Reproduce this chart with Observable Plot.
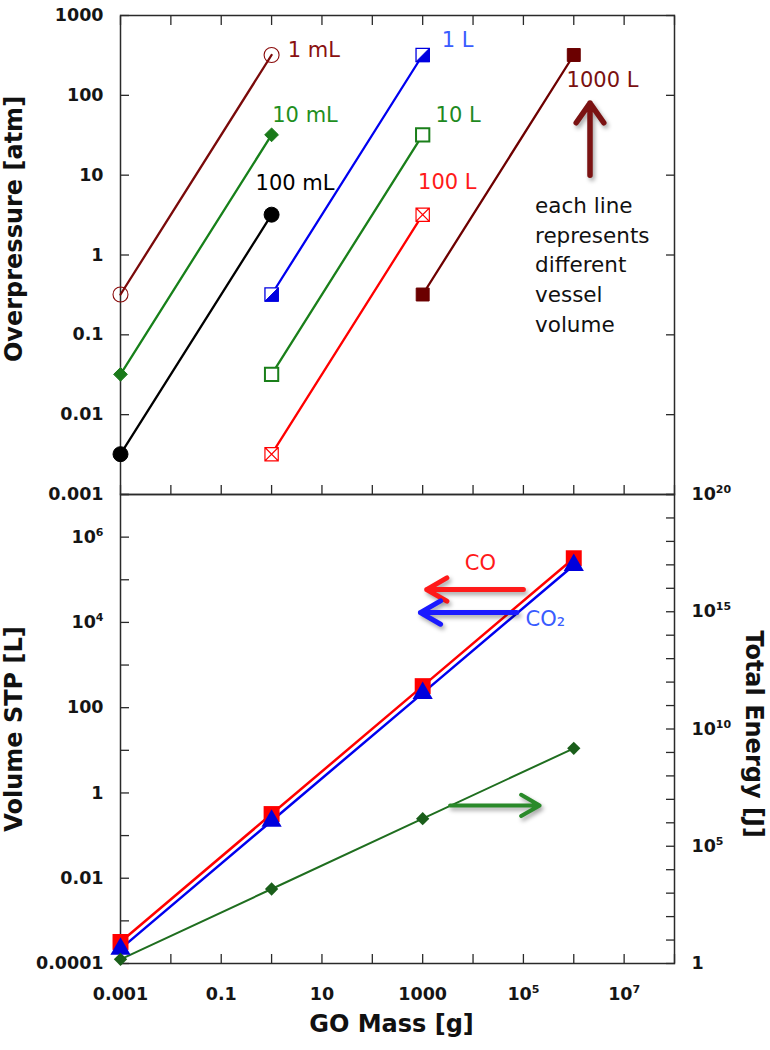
<!DOCTYPE html>
<html><head><meta charset="utf-8">
<script src="https://cdn.jsdelivr.net/npm/d3@7"></script>
<script src="https://cdn.jsdelivr.net/npm/@observablehq/plot@0.6"></script>
<style>
body{margin:0;background:#fff;}
#wrap{position:relative;width:770px;height:1050px;overflow:hidden;}
#top,#bot{position:absolute;left:0;}
#top{top:0;} #bot{top:494px;}
</style></head><body><div id="wrap"><div id="bot"></div><div id="top"></div></div>
<script>
// ---------------- top panel data ----------------
const vesselLabels = ["1 mL","10 mL","100 mL","1 L","10 L","100 L","1000 L"];
const massLow  = [0.001, 0.001, 0.001, 1, 1, 1, 1000];
const massHigh = [1, 1, 1, 1000, 1000, 1000, 1e6];
const pressLow  = [0.32, 0.032, 0.0032, 0.32, 0.032, 0.0032, 0.32];
const pressHigh = [320, 32, 3.2, 320, 32, 3.2, 320];
const labelMass  = [2.1, 1.03, 0.48, 2400, 1800, 810, 7.2e5];
const labelPress = [363, 57, 7.9, 490, 56, 8.1, 153];
const noteText = ["each line\nrepresents\ndifferent\nvessel\nvolume"];
const noteMass = [1.7e5];
const notePress = [0.8];
const topArrowMass = [2.1e6];
const topArrowFrom = [10];
const topArrowTo = [80];
const topYTicks = [0.001, 0.01, 0.1, 1, 10, 100, 1000];
const topYTickLabels = ["0.001", "0.01", "0.1", "1", "10", "100", "1000"];
const massDecades = [1e-3, 1e-2, 1e-1, 1, 10, 100, 1e3, 1e4, 1e5, 1e6, 1e7, 1e8];

// ---------------- bottom panel data ----------------
const goMass = [0.001, 1, 1000, 1e6];
const volumeCO = [3.2e-4, 0.32, 320, 3.2e5];
const volumeCO2 = [2.2e-4, 0.22, 220, 2.2e5];
const totalEnergy = [1.5, 1.5e3, 1.5e6, 1.5e9];
const massTickLabels = ["0.001", "", "0.1", "", "10", "", "1000", "", "10^5", "", "10^7", ""];
const volTicks = [1e-4, 1e-3, 1e-2, 1e-1, 1, 10, 100, 1e3, 1e4, 1e5, 1e6, 1e7];
const volTickLabels = ["0.0001", "", "0.01", "", "1", "", "100", "", "10^4", "", "10^6", ""];
const energyExps = [0,1,2,3,4,5,6,7,8,9,10,11,12,13,14,15,16,17,18,19,20];
const energyTickLabels = ["1","","","","","10^5","","","","","10^10","","","","","10^15","","","","","10^20"];
const gasLabels = ["CO", "CO₂"];
const gasLabelMass = [1.4e4, 1.1e5];
const gasLabelVol = [2.5e5, 1.2e4];
const arrowCO = {from: [1e5], to: [1.2e3], vol: [5.9e4]};
const arrowCO2 = {from: [7.4e4], to: [900], vol: [1.7e4]};
const arrowEnergy = {from: [3.5e3], to: [2.1e5], vol: [0.51]};

// ---------------- styles ----------------
const lineStroke = ["#7a0a0a", "#17801a", "#000000", "#0000f0", "#1a7f1a", "#ff0000", "#6e0000"];
const labelFill  = ["#8a1010", "#1f8f1f", "#000000", "#3a5cff", "#1f8a1f", "#ff1a1a", "#7a1010"];
const volDomain = [1e-4, 1e7];
const energyDomain = [1, 1e20];

// map an energy (right axis) onto the left-axis volume scale
function energyToVol(e) {
  const t = (Math.log10(e) - Math.log10(energyDomain[0])) / (Math.log10(energyDomain[1]) - Math.log10(energyDomain[0]));
  return 10 ** (Math.log10(volDomain[0]) + t * (Math.log10(volDomain[1]) - Math.log10(volDomain[0])));
}

const halfSquare = {draw(ctx, size) { const s = Math.sqrt(size) / 2; ctx.moveTo(s, -s); ctx.lineTo(s, s); ctx.lineTo(-s, s); ctx.closePath(); }};
const crossSquare = {draw(ctx, size) { const s = Math.sqrt(size) / 2;
  ctx.moveTo(-s, -s); ctx.lineTo(s, -s); ctx.lineTo(s, s); ctx.lineTo(-s, s); ctx.closePath();
  ctx.moveTo(-s, -s); ctx.lineTo(s, s); ctx.moveTo(s, -s); ctx.lineTo(-s, s); }};

const markerSpecs = [
  [{symbol: "circle", r: 7.5, fill: "none", stroke: "#8a0a0a", strokeWidth: 1.1}],
  [{symbol: "diamond2", r: 6.2, fill: "#1a7a1a", stroke: "#1a7a1a", strokeWidth: 1}],
  [{symbol: "circle", r: 7.5, fill: "#000", stroke: "#000", strokeWidth: 1}],
  [{symbol: "square", r: 7.5, fill: "#fff", stroke: "#0000e0", strokeWidth: 1.3}, {symbol: halfSquare, r: 7.5, fill: "#0000e0", stroke: "#0000e0", strokeWidth: 1}],
  [{symbol: "square", r: 7.5, fill: "#fff", stroke: "#1a7f1a", strokeWidth: 2}],
  [{symbol: crossSquare, r: 7.5, fill: "#fff", stroke: "#ff0000", strokeWidth: 1.2}],
  [{symbol: "square", r: 7.3, fill: "#6b0000", stroke: "#6b0000", strokeWidth: 1}]
];

const topRows = vesselLabels.flatMap((v, i) => [
  {v, i, m: massLow[i], p: pressLow[i]},
  {v, i, m: massHigh[i], p: pressHigh[i]}
]);
const topLabelMap = new Map(topYTicks.map((d, i) => [d, topYTickLabels[i]]));
const massLabelMap = new Map(massDecades.map((d, i) => [d, massTickLabels[i]]));
const volLabelMap = new Map(volTicks.map((d, i) => [d, volTickLabels[i]]));
const energyTicks = energyExps.map(k => energyToVol(10 ** k));
const energyLabelMap = new Map(energyTicks.map((d, i) => [d, energyTickLabels[i]]));

const axisStyle = {fontFamily: "DejaVu Sans", fontSize: "17.5px", fontWeight: "bold", color: "#151515", background: "transparent", overflow: "visible"};
const frameColor = "#2a2a2a";
const shadow = "drop-shadow(2px 3px 2px rgba(0,0,0,0.35))";
const noteFont = {fontSize: 21.5, fontWeight: "normal", fontFamily: "DejaVu Sans"};
const titleFont = {fontSize: 24, fontWeight: "bold", fontFamily: "DejaVu Sans", fill: "#111", textAnchor: "middle"};

const topMarks = [
  Plot.frame({stroke: frameColor, strokeWidth: 1.5}),
  Plot.axisY({ticks: topYTicks, anchor: "left", tickSize: -9, tickPadding: 26, tickFormat: d => topLabelMap.get(d), label: null, stroke: frameColor, strokeWidth: 1.3}),
  Plot.axisY({ticks: topYTicks, anchor: "right", tickSize: -9, tickFormat: () => "", label: null, stroke: frameColor, strokeWidth: 1.3}),
  Plot.axisX({ticks: massDecades, anchor: "bottom", tickSize: -9, tickFormat: () => "", label: null, stroke: frameColor, strokeWidth: 1.3}),
  Plot.axisX({ticks: massDecades, anchor: "top", tickSize: -9, tickFormat: () => "", label: null, stroke: frameColor, strokeWidth: 1.3}),
  Plot.line(topRows, {x: "m", y: "p", z: "v", stroke: d => lineStroke[d.i], strokeWidth: 2.3}),
];
markerSpecs.forEach((specs, i) => {
  specs.forEach(s => topMarks.push(Plot.dot(topRows.filter(d => d.i === i), {x: "m", y: "p", ...s})));
});
topMarks.push(
  Plot.text(vesselLabels, {x: (d, i) => labelMass[i], y: (d, i) => labelPress[i], text: d => d, fill: (d, i) => labelFill[i], textAnchor: "start", ...noteFont, fontSize: 21}),
  Plot.text(noteText, {x: noteMass, y: notePress, text: d => d, textAnchor: "start", ...noteFont, lineHeight: 1.38, fill: "#111"}),
  Plot.arrow(topArrowMass, {x: d => d, y1: topArrowFrom, y2: topArrowTo, stroke: "#7b1212", strokeWidth: 5.5, headLength: 7, headAngle: 70, imageFilter: shadow}),
  Plot.text(["Overpressure [atm]"], {frameAnchor: "left", dx: -106, dy: -26, rotate: -90, text: d => d, ...titleFont})
);

const topPlot = Plot.plot({
  width: 770, height: 497, marginLeft: 120, marginRight: 96, marginTop: 15, marginBottom: 3,
  style: axisStyle,
  x: {type: "log", domain: [1e-3, 1e8]},
  y: {type: "log", domain: [1e-3, 1e3]},
  marks: topMarks
});

const gasRowsCO = goMass.map((m, i) => ({m, v: volumeCO[i]}));
const gasRowsCO2 = goMass.map((m, i) => ({m, v: volumeCO2[i]}));
const energyRows = goMass.map((m, i) => ({m, v: energyToVol(totalEnergy[i])}));

const botPlot = Plot.plot({
  width: 770, height: 556, marginLeft: 120, marginRight: 96, marginTop: 0, marginBottom: 87,
  style: axisStyle,
  x: {type: "log", domain: [1e-3, 1e8]},
  y: {type: "log", domain: volDomain},
  marks: [
    Plot.frame({stroke: frameColor, strokeWidth: 1.5}),
    Plot.axisY({ticks: volTicks, anchor: "left", tickSize: -9, tickPadding: 26, tickFormat: d => volLabelMap.get(d), label: null, stroke: frameColor, strokeWidth: 1.3}),
    Plot.axisY({ticks: energyTicks, anchor: "right", tickSize: -9, tickPadding: 26, tickFormat: d => energyLabelMap.get(d), label: null, stroke: frameColor, strokeWidth: 1.3}),
    Plot.axisX({ticks: massDecades, anchor: "bottom", tickSize: -9, tickPadding: 33, tickFormat: d => massLabelMap.get(d), label: null, stroke: frameColor, strokeWidth: 1.3}),
    Plot.line(energyRows, {x: "m", y: "v", stroke: "#1f6e1f", strokeWidth: 2}),
    Plot.line(gasRowsCO, {x: "m", y: "v", stroke: "#ff0000", strokeWidth: 2.5}),
    Plot.line(gasRowsCO2, {x: "m", y: "v", stroke: "#0000ee", strokeWidth: 2.5}),
    Plot.dot(gasRowsCO, {x: "m", y: "v", symbol: "square", r: 9, fill: "#ff0000"}),
    Plot.dot(gasRowsCO2, {x: "m", y: "v", symbol: "triangle", r: 7.5, fill: "#0000dd"}),
    Plot.dot(energyRows, {x: "m", y: "v", symbol: "diamond2", r: 6, fill: "#1a5e1a"}),
    Plot.arrow(arrowCO.vol, {x1: arrowCO.from, x2: arrowCO.to, y: d => d, stroke: "#ff1a1a", strokeWidth: 5, headLength: 7, headAngle: 60, imageFilter: shadow}),
    Plot.arrow(arrowCO2.vol, {x1: arrowCO2.from, x2: arrowCO2.to, y: d => d, stroke: "#1a1aff", strokeWidth: 5, headLength: 7, headAngle: 60, imageFilter: shadow}),
    Plot.arrow(arrowEnergy.vol, {x1: arrowEnergy.from, x2: arrowEnergy.to, y: d => d, stroke: "#2a8a2a", strokeWidth: 4, headLength: 8, headAngle: 60, imageFilter: shadow}),
    Plot.text([gasLabels[0]], {x: [gasLabelMass[0]], y: [gasLabelVol[0]], text: d => d, textAnchor: "middle", fill: "#ff1a1a", ...noteFont, fontSize: 21}),
    Plot.text([gasLabels[1]], {x: [gasLabelMass[1]], y: [gasLabelVol[1]], text: d => d, textAnchor: "start", fill: "#3a5cff", ...noteFont, fontSize: 21}),
    Plot.text(["Volume STP [L]"], {frameAnchor: "left", dx: -106, dy: 0, rotate: -90, text: d => d, ...titleFont}),
    Plot.text(["Total Energy [J]"], {frameAnchor: "right", dx: 79, dy: 5, rotate: 90, text: d => d, ...titleFont}),
    Plot.text(["GO Mass [g]"], {frameAnchor: "bottom", dx: -6, dy: 68, text: d => d, ...titleFont})
  ]
});

// superscripts for "10^n" labels
function superscripts(svg) {
  svg.querySelectorAll("text").forEach(t => {
    const m = t.textContent.match(/^(\d+)\^(\d+)$/);
    if (m && t.children.length === 0) {
      t.textContent = m[1];
      const ts = document.createElementNS("http://www.w3.org/2000/svg", "tspan");
      ts.setAttribute("dy", "-7");
      ts.setAttribute("font-size", "11");
      ts.textContent = m[2];
      t.appendChild(ts);
    }
  });
}
superscripts(botPlot);

document.getElementById("top").appendChild(topPlot);
document.getElementById("bot").appendChild(botPlot);
</script></body></html>
